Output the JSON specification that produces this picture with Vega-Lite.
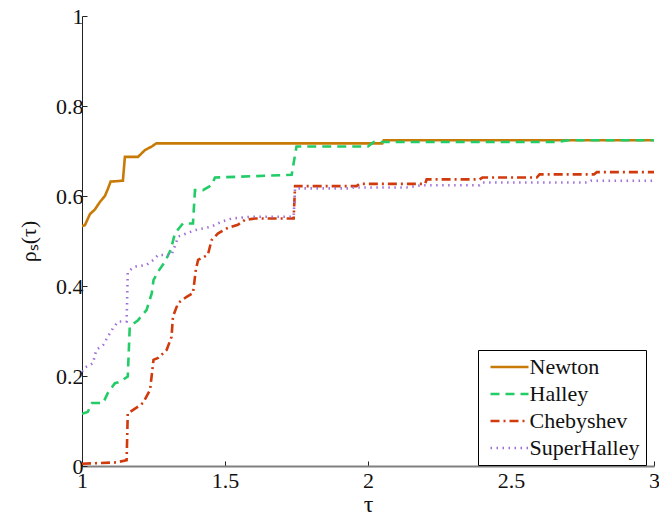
{
  "$schema": "https://vega.github.io/schema/vega-lite/v6.json",
  "width": 572,
  "height": 450,
  "autosize": {"type": "none"},
  "padding": {"left": 82, "top": 16, "right": 5, "bottom": 51},
  "background": "white",
  "config": {
    "view": {"stroke": null},
    "font": "Times New Roman",
    "axis": {
      "grid": false,
      "labelColor": "#111",
      "titleFontWeight": "normal",
      "titleColor": "#111",
      "tickColor": "#222",
      "domainColor": "#222",
      "tickSize": -5
    }
  },
  "datasets": {
    "profiles": [
      {"s": "Newton", "i": 0, "tau": 1.0, "rho": 0.533},
      {"s": "Newton", "i": 1, "tau": 1.01, "rho": 0.535},
      {"s": "Newton", "i": 2, "tau": 1.028, "rho": 0.56},
      {"s": "Newton", "i": 3, "tau": 1.045, "rho": 0.57},
      {"s": "Newton", "i": 4, "tau": 1.063, "rho": 0.587},
      {"s": "Newton", "i": 5, "tau": 1.08, "rho": 0.6},
      {"s": "Newton", "i": 6, "tau": 1.09, "rho": 0.615},
      {"s": "Newton", "i": 7, "tau": 1.1, "rho": 0.632},
      {"s": "Newton", "i": 8, "tau": 1.143, "rho": 0.634},
      {"s": "Newton", "i": 9, "tau": 1.15, "rho": 0.687},
      {"s": "Newton", "i": 10, "tau": 1.196, "rho": 0.687},
      {"s": "Newton", "i": 11, "tau": 1.22, "rho": 0.702},
      {"s": "Newton", "i": 12, "tau": 1.244, "rho": 0.71},
      {"s": "Newton", "i": 13, "tau": 1.26, "rho": 0.717},
      {"s": "Newton", "i": 14, "tau": 2.05, "rho": 0.717},
      {"s": "Newton", "i": 15, "tau": 2.055, "rho": 0.724},
      {"s": "Newton", "i": 16, "tau": 3.0, "rho": 0.724},

      {"s": "Halley", "i": 0, "tau": 1.0, "rho": 0.116},
      {"s": "Halley", "i": 1, "tau": 1.02, "rho": 0.12},
      {"s": "Halley", "i": 2, "tau": 1.035, "rho": 0.14},
      {"s": "Halley", "i": 3, "tau": 1.074, "rho": 0.14},
      {"s": "Halley", "i": 4, "tau": 1.09, "rho": 0.162},
      {"s": "Halley", "i": 5, "tau": 1.115, "rho": 0.184},
      {"s": "Halley", "i": 6, "tau": 1.133, "rho": 0.187},
      {"s": "Halley", "i": 7, "tau": 1.16, "rho": 0.199},
      {"s": "Halley", "i": 8, "tau": 1.167, "rho": 0.31},
      {"s": "Halley", "i": 9, "tau": 1.196, "rho": 0.324},
      {"s": "Halley", "i": 10, "tau": 1.226, "rho": 0.347},
      {"s": "Halley", "i": 11, "tau": 1.244, "rho": 0.384},
      {"s": "Halley", "i": 12, "tau": 1.25, "rho": 0.413},
      {"s": "Halley", "i": 13, "tau": 1.266, "rho": 0.432},
      {"s": "Halley", "i": 14, "tau": 1.29, "rho": 0.454},
      {"s": "Halley", "i": 15, "tau": 1.31, "rho": 0.48},
      {"s": "Halley", "i": 16, "tau": 1.325, "rho": 0.517},
      {"s": "Halley", "i": 17, "tau": 1.353, "rho": 0.539},
      {"s": "Halley", "i": 18, "tau": 1.388, "rho": 0.539},
      {"s": "Halley", "i": 19, "tau": 1.395, "rho": 0.613},
      {"s": "Halley", "i": 20, "tau": 1.423, "rho": 0.613},
      {"s": "Halley", "i": 21, "tau": 1.453, "rho": 0.624},
      {"s": "Halley", "i": 22, "tau": 1.465, "rho": 0.641},
      {"s": "Halley", "i": 23, "tau": 1.733, "rho": 0.647},
      {"s": "Halley", "i": 24, "tau": 1.75, "rho": 0.71},
      {"s": "Halley", "i": 25, "tau": 2.0, "rho": 0.71},
      {"s": "Halley", "i": 26, "tau": 2.02, "rho": 0.72},
      {"s": "Halley", "i": 27, "tau": 2.66, "rho": 0.72},
      {"s": "Halley", "i": 28, "tau": 2.7, "rho": 0.724},
      {"s": "Halley", "i": 29, "tau": 3.0, "rho": 0.724},

      {"s": "Chebyshev", "i": 0, "tau": 1.0, "rho": 0.005},
      {"s": "Chebyshev", "i": 1, "tau": 1.12, "rho": 0.008},
      {"s": "Chebyshev", "i": 2, "tau": 1.156, "rho": 0.013},
      {"s": "Chebyshev", "i": 3, "tau": 1.16, "rho": 0.117},
      {"s": "Chebyshev", "i": 4, "tau": 1.196, "rho": 0.132},
      {"s": "Chebyshev", "i": 5, "tau": 1.213, "rho": 0.14},
      {"s": "Chebyshev", "i": 6, "tau": 1.238, "rho": 0.169},
      {"s": "Chebyshev", "i": 7, "tau": 1.25, "rho": 0.236},
      {"s": "Chebyshev", "i": 8, "tau": 1.266, "rho": 0.24},
      {"s": "Chebyshev", "i": 9, "tau": 1.296, "rho": 0.258},
      {"s": "Chebyshev", "i": 10, "tau": 1.313, "rho": 0.287},
      {"s": "Chebyshev", "i": 11, "tau": 1.318, "rho": 0.332},
      {"s": "Chebyshev", "i": 12, "tau": 1.336, "rho": 0.362},
      {"s": "Chebyshev", "i": 13, "tau": 1.366, "rho": 0.376},
      {"s": "Chebyshev", "i": 14, "tau": 1.388, "rho": 0.384},
      {"s": "Chebyshev", "i": 15, "tau": 1.398, "rho": 0.436},
      {"s": "Chebyshev", "i": 16, "tau": 1.406, "rho": 0.458},
      {"s": "Chebyshev", "i": 17, "tau": 1.44, "rho": 0.469},
      {"s": "Chebyshev", "i": 18, "tau": 1.453, "rho": 0.502},
      {"s": "Chebyshev", "i": 19, "tau": 1.476, "rho": 0.517},
      {"s": "Chebyshev", "i": 20, "tau": 1.506, "rho": 0.528},
      {"s": "Chebyshev", "i": 21, "tau": 1.545, "rho": 0.536},
      {"s": "Chebyshev", "i": 22, "tau": 1.57, "rho": 0.547},
      {"s": "Chebyshev", "i": 23, "tau": 1.605, "rho": 0.55},
      {"s": "Chebyshev", "i": 24, "tau": 1.74, "rho": 0.55},
      {"s": "Chebyshev", "i": 25, "tau": 1.745, "rho": 0.622},
      {"s": "Chebyshev", "i": 26, "tau": 1.96, "rho": 0.622},
      {"s": "Chebyshev", "i": 27, "tau": 1.97, "rho": 0.627},
      {"s": "Chebyshev", "i": 28, "tau": 2.2, "rho": 0.627},
      {"s": "Chebyshev", "i": 29, "tau": 2.205, "rho": 0.637},
      {"s": "Chebyshev", "i": 30, "tau": 2.39, "rho": 0.637},
      {"s": "Chebyshev", "i": 31, "tau": 2.4, "rho": 0.641},
      {"s": "Chebyshev", "i": 32, "tau": 2.59, "rho": 0.641},
      {"s": "Chebyshev", "i": 33, "tau": 2.6, "rho": 0.648},
      {"s": "Chebyshev", "i": 34, "tau": 2.79, "rho": 0.648},
      {"s": "Chebyshev", "i": 35, "tau": 2.8, "rho": 0.653},
      {"s": "Chebyshev", "i": 36, "tau": 3.0, "rho": 0.653},

      {"s": "SuperHalley", "i": 0, "tau": 1.0, "rho": 0.21},
      {"s": "SuperHalley", "i": 1, "tau": 1.005, "rho": 0.217},
      {"s": "SuperHalley", "i": 2, "tau": 1.038, "rho": 0.228},
      {"s": "SuperHalley", "i": 3, "tau": 1.05, "rho": 0.258},
      {"s": "SuperHalley", "i": 4, "tau": 1.074, "rho": 0.269},
      {"s": "SuperHalley", "i": 5, "tau": 1.09, "rho": 0.287},
      {"s": "SuperHalley", "i": 6, "tau": 1.108, "rho": 0.306},
      {"s": "SuperHalley", "i": 7, "tau": 1.126, "rho": 0.321},
      {"s": "SuperHalley", "i": 8, "tau": 1.156, "rho": 0.321},
      {"s": "SuperHalley", "i": 9, "tau": 1.16, "rho": 0.432},
      {"s": "SuperHalley", "i": 10, "tau": 1.185, "rho": 0.443},
      {"s": "SuperHalley", "i": 11, "tau": 1.226, "rho": 0.447},
      {"s": "SuperHalley", "i": 12, "tau": 1.25, "rho": 0.458},
      {"s": "SuperHalley", "i": 13, "tau": 1.266, "rho": 0.469},
      {"s": "SuperHalley", "i": 14, "tau": 1.313, "rho": 0.469},
      {"s": "SuperHalley", "i": 15, "tau": 1.337, "rho": 0.51},
      {"s": "SuperHalley", "i": 16, "tau": 1.395, "rho": 0.524},
      {"s": "SuperHalley", "i": 17, "tau": 1.453, "rho": 0.532},
      {"s": "SuperHalley", "i": 18, "tau": 1.488, "rho": 0.543},
      {"s": "SuperHalley", "i": 19, "tau": 1.523, "rho": 0.55},
      {"s": "SuperHalley", "i": 20, "tau": 1.593, "rho": 0.554},
      {"s": "SuperHalley", "i": 21, "tau": 1.74, "rho": 0.554},
      {"s": "SuperHalley", "i": 22, "tau": 1.745, "rho": 0.617},
      {"s": "SuperHalley", "i": 23, "tau": 1.94, "rho": 0.617},
      {"s": "SuperHalley", "i": 24, "tau": 1.95, "rho": 0.619},
      {"s": "SuperHalley", "i": 25, "tau": 2.135, "rho": 0.619},
      {"s": "SuperHalley", "i": 26, "tau": 2.19, "rho": 0.624},
      {"s": "SuperHalley", "i": 27, "tau": 2.39, "rho": 0.624},
      {"s": "SuperHalley", "i": 28, "tau": 2.4, "rho": 0.63},
      {"s": "SuperHalley", "i": 29, "tau": 2.77, "rho": 0.63},
      {"s": "SuperHalley", "i": 30, "tau": 2.78, "rho": 0.634},
      {"s": "SuperHalley", "i": 31, "tau": 3.0, "rho": 0.634}
    ]
  },
  "data": {"name": "profiles"},
  "mark": {"type": "line", "clip": true, "strokeCap": "butt", "strokeJoin": "miter"},
  "encoding": {
    "x": {
      "field": "tau",
      "type": "quantitative",
      "scale": {"domain": [1, 3], "nice": false, "zero": false},
      "axis": {
        "values": [1, 1.5, 2, 2.5, 3],
        "format": "~g",
        "title": "τ",
        "titleFont": "Times New Roman",
        "titleFontSize": 24,
        "titlePadding": 1,
        "labelFont": "Times New Roman",
        "labelFontSize": 22,
        "labelPadding": 9,
        "labelFlush": false,
        "domainColor": "#808080",
        "domainWidth": 2
      }
    },
    "y": {
      "field": "rho",
      "type": "quantitative",
      "scale": {"domain": [0, 1], "nice": false},
      "axis": {
        "values": [0, 0.2, 0.4, 0.6, 0.8, 1],
        "format": "~g",
        "title": "ρₛ(τ)",
        "titleFont": "Times New Roman",
        "titleFontSize": 22,
        "titlePadding": 15,
        "labelFont": "Times New Roman",
        "labelFontSize": 22,
        "labelPadding": 4,
        "labelFlush": false
      }
    },
    "order": {"field": "i", "type": "quantitative"},
    "color": {
      "field": "s",
      "type": "nominal",
      "scale": {
        "domain": ["Newton", "Halley", "Chebyshev", "SuperHalley"],
        "range": ["#c87a06", "#22cc66", "#d03a0c", "#a070d8"]
      },
      "legend": {
        "title": null,
        "orient": "none",
        "legendX": 396,
        "legendY": 334,
        "strokeColor": "#000",
        "fillColor": "#fff",
        "padding": 6,
        "rowPadding": 5,
        "symbolType": "M-1,0H6.6",
        "symbolSize": 100,
        "symbolOffset": 0.5,
        "labelFont": "Times New Roman",
        "labelFontSize": 22,
        "labelColor": "#111",
        "labelOffset": 23,
        "labelLimit": 300
      }
    },
    "strokeDash": {
      "field": "s",
      "type": "nominal",
      "scale": {
        "domain": ["Newton", "Halley", "Chebyshev", "SuperHalley"],
        "range": [[1, 0], [9, 6], [9, 4, 2, 4], [1.5, 4.5]]
      },
      "legend": null
    },
    "strokeWidth": {
      "field": "s",
      "type": "nominal",
      "scale": {
        "domain": ["Newton", "Halley", "Chebyshev", "SuperHalley"],
        "range": [2.6, 2.6, 2.6, 1.2]
      },
      "legend": null
    }
  }
}
